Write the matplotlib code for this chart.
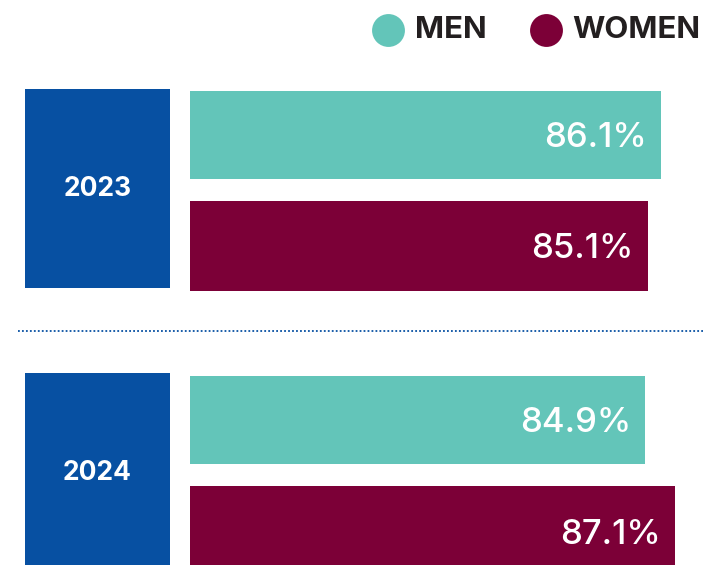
import numpy as np
import matplotlib.pyplot as plt
from matplotlib.patches import Rectangle

# data
years = ['2023', '2024']
men = [86.1, 84.9]
women = [85.1, 87.1]
series_names = ['MEN', 'WOMEN']

teal = '#63c5b9'
maroon = '#7c0037'
blue = '#0750a2'
dark = '#231f20'
font = 'Inter'

W, H = 703, 565
fig = plt.figure(figsize=(W / 100, H / 100), dpi=100)
fig.patch.set_facecolor('white')

# layout axes in pixel units (boxes, separator, legend)
lay = fig.add_axes([0, 0, 1, 1])
lay.set_xlim(0, W)
lay.set_ylim(H, 0)
lay.axis('off')

# bar axes: bars start at x=190px, value axis does not start at zero
base = 51.3
px_per_unit = 13.54
bx0 = 190
bars = fig.add_axes([bx0 / W, 0, (W - bx0) / W, 1])
bars.set_xlim(base, base + (W - bx0) / px_per_unit)
bars.set_ylim(H, 0)
bars.axis('off')

group_step = 285.5
men_y0 = 134.5
women_off = 111
bar_h = 88

for i, yr in enumerate(years):
    ym = men_y0 + i * group_step
    yw = ym + women_off
    bars.barh(ym, men[i] - base, left=base, height=bar_h, color=teal)
    bars.barh(yw, women[i] - base, left=base, height=bar_h + 2, color=maroon)
    for v, y in [(men[i], ym), (women[i], yw)]:
        bars.annotate(f'{v:.1f}%', (v, y), xytext=(-10, 0), textcoords='offset points',
                      ha='right', va='center_baseline', color='white', fontsize=25,
                      family=font, fontweight='medium')

    # year box
    top = 89 + i * (373 - 89)
    lay.add_patch(Rectangle((25, top), 145, 199, color=blue, lw=0))
    lay.text(97.5, top + 100.5, yr, ha='center', va='center', color='white',
             fontsize=19, family=font, fontweight='bold')

# dotted separator
lay.plot([18, W], [331, 331], color=blue, lw=1.3, linestyle=(0, (1, 1.2)))

# legend
for cx, tx, name, c in [(388, 415, series_names[0], teal), (545.5, 572, series_names[1], maroon)]:
    lay.scatter([cx], [29.5], s=560, color=c, lw=0)
    lay.text(tx, 30, name, ha='left', va='center', color=dark, fontsize=22.5,
             family=font, fontweight='bold')

fig.savefig('out.png', dpi=100)
